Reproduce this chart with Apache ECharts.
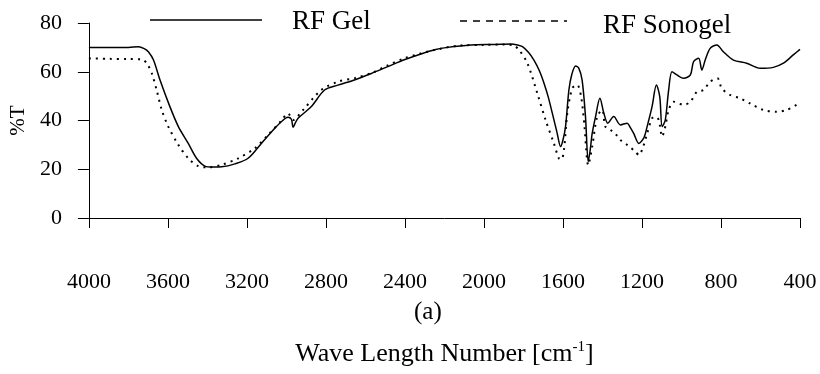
<!DOCTYPE html>
<html>
<head>
<meta charset="utf-8">
<script src="https://cdn.jsdelivr.net/npm/echarts@6/dist/echarts.min.js"></script>
<style>
html,body{margin:0;padding:0;background:#fff;}
#c{width:820px;height:374px;}
</style>
</head>
<body>
<div id="c"></div>
<script>
var gelWave = [4000,3900,3800,3749,3720,3699,3673,3640,3590,3547,3497,3455,3413,3370,3328,3261,3194,3127,3067,3026,2992,2975,2966,2955,2941,2874,2807,2740,2656,2570,2487,2400,2319,2250,2184,2066,1950,1864,1830,1805,1775,1747,1720,1696,1674,1654,1630,1612,1600,1587,1570,1555,1536,1520,1503,1486,1472,1462,1452,1435,1413,1393,1373,1343,1309,1275,1258,1242,1216,1190,1174,1149,1127,1110,1098,1082,1065,1048,1023,989,955,939,913,897,880,855,821,788,737,670,602,535,484,434,400];
var gelT = [70.0,70.0,70.0,70.3,69.5,68.2,64.8,56.6,45.7,37.5,30.6,24.5,21.3,20.9,21.0,22.2,24.5,30.6,36.1,39.5,41.3,40.5,37.2,39.0,40.9,45.7,52.5,54.5,56.6,59.3,62.1,65.0,67.3,69.0,70.0,71.0,71.2,71.4,71.0,70.3,68.0,64.8,60.5,55.3,49.5,43.0,35.0,29.3,32.0,37.5,52.5,59.0,62.4,61.5,56.6,41.6,23.1,28.0,34.7,41.6,49.1,43.0,38.9,41.6,38.2,38.9,37.0,34.7,30.6,33.0,37.5,45.7,54.6,49.8,37.5,40.2,52.5,60.0,58.7,57.3,58.7,64.1,65.5,60.7,64.8,69.6,71.0,68.2,64.8,63.5,61.4,61.8,63.5,66.9,69.2];
var sonoWave = [4000,3900,3800,3732,3707,3682,3657,3631,3598,3547,3497,3446,3396,3328,3244,3160,3093,3026,2992,2966,2916,2824,2739,2650,2571,2490,2403,2320,2234,2120,2000,1900,1850,1822,1780,1730,1688,1646,1621,1608,1595,1578,1553,1528,1508,1491,1472,1452,1427,1402,1385,1359,1334,1309,1275,1233,1216,1195,1174,1149,1132,1115,1098,1082,1065,1040,1015,989,955,922,889,855,818,796,754,703,653,585,518,468,409];
var sonoT = [65.5,65.3,65.2,65.1,63.5,59.4,52.5,44.3,37.5,30.0,24.5,21.3,20.8,21.8,24.5,28.6,34.1,39.9,42.9,40.2,44.3,52.5,55.9,57.5,59.4,62.5,65.5,67.5,69.2,70.8,71.0,71.2,70.8,68.9,63.5,51.2,40.2,30.6,24.5,24.0,27.9,43.0,53.2,54.6,49.8,37.5,21.7,29.3,41.6,44.3,37.5,36.1,34.5,32.0,30.0,27.2,25.8,29.0,34.7,40.9,41.6,40.2,33.4,37.5,44.3,47.7,47.0,46.4,47.7,51.8,52.5,55.9,57.3,53.2,50.5,49.1,47.0,44.3,43.6,44.3,46.8];
var seriesNames = ['RF Gel', 'RF Sonogel'];
var xTicks = [4000,3600,3200,2800,2400,2000,1600,1200,800,400];
var yTicks = [0,20,40,60,80];

function zip(a, b) { return a.map(function (v, i) { return [v, b[i]]; }); }

var serif = '"Liberation Serif","Times New Roman",serif';
var chart = echarts.init(document.getElementById('c'), null, {renderer: 'canvas'});
chart.setOption({
  animation: false,
  backgroundColor: '#fff',
  grid: {left: 87, right: 20, top: 23, bottom: 156, containLabel: false},
  xAxis: {
    type: 'value', min: 400, max: 4000, interval: 400, inverse: true,
    axisLine: {show: true, onZero: false, lineStyle: {color: '#000', width: 1}},
    axisTick: {show: true, inside: false, length: 10, lineStyle: {color: '#000', width: 1}},
    axisLabel: {margin: 53, fontFamily: serif, fontSize: 22, color: '#000',
      formatter: function (v) { return xTicks.indexOf(v) >= 0 ? String(v) : ''; }},
    splitLine: {show: false},
    name: 'Wave Length Number [cm{sup|-1}]',
    nameLocation: 'middle', nameGap: 122,
    nameTextStyle: {fontFamily: serif, fontSize: 26, color: '#000',
      rich: {sup: {fontFamily: serif, fontSize: 15, color: '#000', verticalAlign: 'top', padding: [0, 0, 14, 0]}}}
  },
  yAxis: {
    type: 'value', min: 0, max: 80, interval: 20,
    axisLine: {show: true, lineStyle: {color: '#000', width: 1}},
    axisTick: {show: true, inside: false, length: 11, lineStyle: {color: '#000', width: 1}},
    axisLabel: {margin: 27, fontFamily: serif, fontSize: 22, color: '#000',
      formatter: function (v) { return yTicks.indexOf(v) >= 0 ? String(v) : ''; }},
    splitLine: {show: false},
    name: '%T', nameLocation: 'middle', nameGap: 55, nameRotate: 90,
    nameTextStyle: {fontFamily: serif, fontSize: 21, color: '#000'}
  },
  graphic: [
    {type: 'line', shape: {x1: 150, y1: 20, x2: 262, y2: 20}, style: {stroke: '#000', lineWidth: 1.5}},
    {type: 'text', x: 292, y: 22, style: {text: seriesNames[0], font: '27px ' + serif, fill: '#000', verticalAlign: 'middle', align: 'left'}},
    {type: 'line', shape: {x1: 460, y1: 21, x2: 567, y2: 21}, style: {stroke: '#000', lineWidth: 1.5, lineDash: [7, 6]}},
    {type: 'text', x: 603, y: 26, style: {text: seriesNames[1], font: '27px ' + serif, fill: '#000', verticalAlign: 'middle', align: 'left'}},
    {type: 'text', left: 414, top: 300, style: {text: '(a)', font: '25px ' + serif, fill: '#000'}}
  ],
  series: [
    {
      name: seriesNames[0], type: 'line', data: zip(gelWave, gelT), symbol: 'none',
      smooth: 0.3, lineStyle: {color: '#000', width: 1.5, type: 'solid'}, itemStyle: {color: '#000'}
    },
    {
      name: seriesNames[1], type: 'line', data: zip(sonoWave, sonoT), symbol: 'none',
      smooth: 0.3, lineStyle: {color: '#000', width: 2, type: [2, 5]}, itemStyle: {color: '#000'}
    }
  ]
});
</script>
</body>
</html>
